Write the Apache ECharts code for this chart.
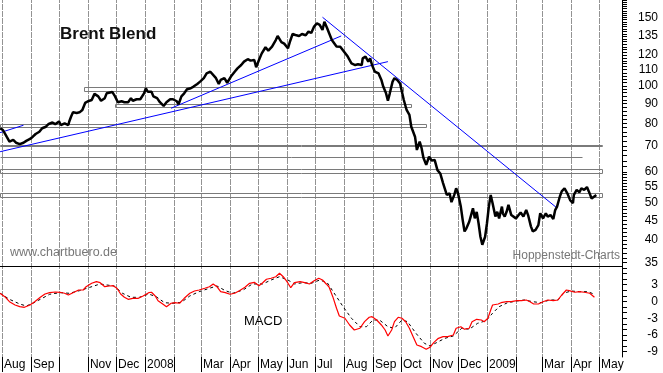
<!DOCTYPE html>
<html><head><meta charset="utf-8">
<script src="https://cdn.jsdelivr.net/npm/echarts@6/dist/echarts.min.js"></script>
<style>html,body{margin:0;padding:0;background:#fff}#c{width:663px;height:373px}</style>
</head><body><div id="c"></div>
<script>
// ---------- DATA ----------
const priceDates = ['2007-07-30','2007-08-02','2007-08-06','2007-08-09','2007-08-13','2007-08-16','2007-08-20','2007-08-24','2007-08-27','2007-08-31',
'2007-09-03','2007-09-06','2007-09-10','2007-09-13','2007-09-17','2007-09-20','2007-09-24','2007-09-27','2007-10-01','2007-10-03',
'2007-10-07','2007-10-11','2007-10-12','2007-10-14','2007-10-16','2007-10-20','2007-10-23','2007-10-24','2007-10-26','2007-10-29',
'2007-11-01','2007-11-05','2007-11-08','2007-11-12','2007-11-15','2007-11-19','2007-11-21','2007-11-23','2007-11-27','2007-11-30',
'2007-12-03','2007-12-07','2007-12-10','2007-12-14','2007-12-17','2007-12-19','2007-12-23','2007-12-27','2007-12-31','2008-01-02',
'2008-01-04','2008-01-08','2008-01-10','2008-01-14','2008-01-17','2008-01-21','2008-01-24','2008-01-28','2008-01-31','2008-02-04',
'2008-02-06','2008-02-09','2008-02-12','2008-02-15','2008-02-19','2008-02-22','2008-02-26','2008-02-29','2008-03-04','2008-03-07',
'2008-03-11','2008-03-13','2008-03-17','2008-03-20','2008-03-22','2008-03-26','2008-03-29','2008-04-02','2008-04-06','2008-04-09',
'2008-04-13','2008-04-16','2008-04-20','2008-04-23','2008-04-27','2008-04-29','2008-05-02','2008-05-05','2008-05-09','2008-05-12',
'2008-05-16','2008-05-20','2008-05-22','2008-05-26','2008-05-29','2008-06-02','2008-06-04','2008-06-07','2008-06-10','2008-06-14',
'2008-06-17','2008-06-21','2008-06-24','2008-06-27','2008-06-30','2008-07-03','2008-07-06','2008-07-09','2008-07-11','2008-07-14',
'2008-07-16','2008-07-19','2008-07-24','2008-07-28','2008-08-05','2008-08-09','2008-08-13','2008-08-16','2008-08-20','2008-08-21',
'2008-08-24','2008-08-27','2008-08-29','2008-08-31','2008-09-03','2008-09-07','2008-09-10','2008-09-12','2008-09-15','2008-09-17',
'2008-09-19','2008-09-22','2008-09-24','2008-09-27','2008-09-30','2008-10-02','2008-10-04','2008-10-07','2008-10-10','2008-10-12',
'2008-10-16','2008-10-18','2008-10-21','2008-10-23','2008-10-25','2008-10-28','2008-10-31','2008-11-03','2008-11-06','2008-11-09',
'2008-11-12','2008-11-15','2008-11-17','2008-11-19','2008-11-22','2008-11-24','2008-11-27','2008-11-29','2008-12-01','2008-12-04',
'2008-12-06','2008-12-08','2008-12-10','2008-12-13','2008-12-15','2008-12-17','2008-12-19','2008-12-21','2008-12-23','2008-12-25',
'2008-12-27','2008-12-30','2009-01-01','2009-01-03','2009-01-05','2009-01-07','2009-01-10','2009-01-12','2009-01-14','2009-01-17',
'2009-01-18','2009-01-20','2009-01-22','2009-01-24','2009-01-27','2009-01-29','2009-02-01','2009-02-03','2009-02-06','2009-02-09',
'2009-02-12','2009-02-14','2009-02-17','2009-02-19','2009-02-22','2009-02-25','2009-02-27','2009-03-02','2009-03-05','2009-03-07',
'2009-03-10','2009-03-13','2009-03-15','2009-03-17','2009-03-20','2009-03-22','2009-03-25','2009-03-28','2009-03-31','2009-04-03',
'2009-04-04','2009-04-07','2009-04-10','2009-04-12','2009-04-15','2009-04-18','2009-04-20','2009-04-23','2009-04-25','2009-04-28'];
const priceValues = [77.7,76.9,73.9,71.8,72.5,71.3,70.7,71.3,72.1,72.9,
73.9,75.1,76.1,77.7,78.4,79.7,80.4,79.6,80.9,79.2,
80.0,79.2,80.9,83.3,85.4,85.1,85.4,84.7,86.6,90.3,
91.2,91.9,95.3,93.9,91.5,92.9,95.6,96.5,96.4,93.9,
90.7,91.2,90.7,90.7,92.9,91.5,92.3,92.3,95.6,98.5,
96.5,96.5,93.9,92.9,90.7,88.7,90.7,92.3,92.3,91.2,
89.6,93.9,95.6,97.9,98.5,99.5,101.1,102.5,104.6,107.6,
108.7,107.7,104.6,101.1,103.5,104.6,101.8,105.6,108.7,110.9,
113.1,115.4,117.1,116.1,116.5,111.6,116.5,121.2,125.7,123.2,
126.1,131.2,134.4,129.6,128.4,124.9,129.6,136.0,135.2,134.4,
136.0,135.0,138.0,136.8,142.1,144.9,143.5,139.3,146.3,140.7,
136.8,131.2,126.3,126.0,118.9,114.2,113.1,113.6,113.1,117.7,
118.9,115.4,117.7,113.1,108.7,107.6,103.5,99.5,95.6,91.5,
95.6,102.5,104.6,103.5,101.4,96.5,91.9,86.6,84.1,78.4,
73.9,68.3,71.8,69.1,65.2,62.5,65.6,64.1,64.4,60.6,
59.4,56.1,55.5,52.3,52.8,50.1,52.3,54.4,52.8,48.8,
45.1,42.1,42.9,44.6,46.4,48.3,45.5,47.3,44.2,40.8,
38.9,40.8,44.2,48.8,52.3,49.8,46.0,47.3,45.5,48.8,
46.9,46.0,47.3,49.3,46.4,46.9,45.5,46.0,47.1,46.0,
47.8,46.4,43.4,42.1,42.5,43.7,46.9,45.5,46.9,46.0,
46.4,45.3,47.8,48.8,51.8,53.4,54.4,52.8,50.7,49.8,
52.3,53.9,53.1,54.4,53.9,54.8,53.4,51.2,51.2,52.3];

const macdDates = ['2007-07-30','2007-08-04','2007-08-09','2007-08-15','2007-08-20','2007-08-25','2007-08-31','2007-09-05','2007-09-11','2007-09-16',
'2007-09-21','2007-09-27','2007-10-02','2007-10-07','2007-10-11','2007-10-16','2007-10-22','2007-10-27','2007-10-30','2007-11-05',
'2007-11-10','2007-11-14','2007-11-19','2007-11-24','2007-11-28','2007-12-02','2007-12-06','2007-12-10','2007-12-14','2007-12-19',
'2007-12-25','2007-12-30','2008-01-05','2008-01-08','2008-01-12','2008-01-15','2008-01-20','2008-01-24','2008-01-29','2008-02-02',
'2008-02-07','2008-02-12','2008-02-18','2008-02-23','2008-02-28','2008-03-05','2008-03-10','2008-03-14','2008-03-18','2008-03-22',
'2008-03-27','2008-04-01','2008-04-06','2008-04-11','2008-04-17','2008-04-22','2008-04-27','2008-05-02','2008-05-06','2008-05-10',
'2008-05-15','2008-05-20','2008-05-24','2008-05-28','2008-06-01','2008-06-05','2008-06-09','2008-06-15','2008-06-20','2008-06-25',
'2008-06-30','2008-07-05','2008-07-09','2008-07-13','2008-07-16','2008-07-20','2008-07-24','2008-07-27','2008-08-02','2008-08-07',
'2008-08-12','2008-08-18','2008-08-23','2008-08-28','2008-08-31','2008-09-05','2008-09-10','2008-09-14','2008-09-17','2008-09-21',
'2008-09-24','2008-09-28','2008-10-02','2008-10-06','2008-10-10','2008-10-14','2008-10-18','2008-10-23','2008-10-28','2008-11-01',
'2008-11-05','2008-11-10','2008-11-15','2008-11-20','2008-11-26','2008-11-29','2008-12-04','2008-12-08','2008-12-13','2008-12-16',
'2008-12-21','2008-12-26','2008-12-29','2009-01-02','2009-01-05','2009-01-07','2009-01-13','2009-01-16','2009-01-22','2009-01-27',
'2009-02-02','2009-02-07','2009-02-12','2009-02-16','2009-02-20','2009-02-25','2009-03-02','2009-03-07','2009-03-13','2009-03-18',
'2009-03-22','2009-03-27','2009-03-30','2009-04-05','2009-04-10','2009-04-15','2009-04-21','2009-04-26'];
const macdValues = [1.47,0.86,-0.04,-0.63,-0.93,-1.04,-0.63,-0.04,0.75,1.34,
1.58,1.70,1.65,1.47,1.16,1.58,2.06,2.06,2.65,3.26,
3.55,3.37,2.65,2.78,2.83,2.37,1.34,0.75,0.39,0.57,
0.57,0.99,1.58,1.65,0.99,0.14,-0.45,-0.93,-0.32,-0.22,
-0.32,0.57,1.47,1.88,2.06,2.37,2.65,3.14,2.65,1.76,
1.58,1.29,1.47,1.94,2.54,3.26,3.44,2.83,3.37,3.98,
4.16,4.44,5.05,4.44,3.55,2.47,3.37,3.55,3.37,3.14,
3.73,4.16,3.85,3.14,2.60,0.86,-1.22,-2.60,-3.01,-4.21,
-5.11,-4.80,-3.62,-2.83,-2.72,-3.32,-4.21,-5.11,-6.18,-5.11,
-3.62,-2.83,-3.01,-3.62,-4.80,-6.31,-7.80,-8.10,-8.57,-8.21,
-7.38,-6.60,-6.31,-6.31,-6.00,-4.80,-4.52,-4.98,-4.80,-3.62,
-3.19,-3.32,-3.62,-3.01,-1.52,-0.63,-0.45,-0.22,-0.04,-0.04,
0.14,0.14,0.27,-0.04,-0.45,-0.45,-0.04,0.27,0.14,0.27,
1.16,2.06,1.94,1.65,1.76,1.65,1.47,0.75];

const signalDates = ['2007-07-30','2007-08-09','2007-08-20','2007-08-27','2007-09-03','2007-09-11','2007-09-21','2007-10-02','2007-10-12','2007-10-23',
'2007-11-03','2007-11-14','2007-11-21','2007-11-29','2007-12-08','2007-12-17','2007-12-26','2008-01-05','2008-01-13','2008-01-22',
'2008-01-31','2008-02-09','2008-02-18','2008-02-28','2008-03-10','2008-03-18','2008-03-27','2008-04-04','2008-04-15','2008-04-25',
'2008-05-06','2008-05-15','2008-05-24','2008-06-02','2008-06-09','2008-06-18','2008-06-27','2008-07-06','2008-07-14','2008-07-24',
'2008-07-31','2008-08-09','2008-08-18','2008-08-25','2008-09-01','2008-09-08','2008-09-17','2008-09-24','2008-10-02','2008-10-08',
'2008-10-17','2008-10-26','2008-11-01','2008-11-08','2008-11-17','2008-11-26','2008-12-05','2008-12-13','2008-12-22','2008-12-31',
'2009-01-07','2009-01-14','2009-01-23','2009-02-02','2009-02-10','2009-02-19','2009-02-28','2009-03-09','2009-03-18','2009-03-24',
'2009-04-01','2009-04-10','2009-04-19','2009-04-26'];
const signalValues = [1.47,0.39,-0.45,-0.81,-0.32,0.39,1.29,1.58,1.47,1.94,
2.54,3.14,2.96,2.78,1.47,0.75,0.75,1.34,0.86,-0.22,
-0.32,-0.14,0.99,1.76,2.37,2.78,1.94,1.47,2.06,3.14,
3.14,3.85,4.44,3.85,3.14,3.37,3.26,3.85,3.37,0.86,
-0.93,-3.01,-4.52,-4.52,-3.32,-3.32,-4.52,-4.80,-3.32,-3.62,
-5.70,-7.49,-7.97,-7.38,-6.60,-6.18,-4.80,-4.98,-3.91,-3.44,
-2.11,-0.93,-0.22,0.09,0.27,-0.04,-0.22,0.27,0.27,1.47,
1.88,1.76,1.76,1.29];

// support / resistance boxes
const levelStart = ['2007-10-28','2007-11-30','2007-07-30','2007-07-30','2007-07-30','2007-07-30','2007-07-30'];
const levelEnd   = ['2008-10-03','2008-10-12','2008-10-28','2009-05-04','2009-04-13','2009-05-04','2009-05-04'];
const levelLow   = [97.2, 88.3, 78.1, 69.8, 65.5, 59.7, 51.8];
const levelHigh  = [99.0, 89.6, 79.6, 70.35, 65.5, 60.9, 52.8];

// blue trend lines
const trendStartDates  = ['2007-07-30','2007-07-30','2008-01-29','2008-07-09'];
const trendStartValues = [75.7, 67.6, 87.5, 150.2];
const trendEndDates    = ['2007-08-24','2008-09-17','2008-07-29','2009-03-16'];
const trendEndValues   = [79.1, 115.4, 134.4, 48.6];

// axes
const monthTicks  = ['2007-08-01','2007-09-01','2007-10-01','2007-11-01','2007-12-01','2008-01-01','2008-02-01','2008-03-01','2008-04-01','2008-05-01','2008-06-01',
'2008-07-01','2008-08-01','2008-09-01','2008-10-01','2008-11-01','2008-12-01','2009-01-01','2009-02-01','2009-03-01','2009-04-01','2009-05-01'];
const monthLabels = ['Aug','Sep','','Nov','Dec','2008','','Mar','Apr','May','Jun',
'Jul','Aug','Sep','Oct','Nov','Dec','2009','','Mar','Apr','May'];
const priceTickLabels = [35,40,45,50,55,60,70,80,90,100,110,120,135,150];
const priceTicks = [35,36,37,38,39,40,41,42,43,44,45,46,47,48,49,50,51,52,53,54,55,56,57,58,59,60,
62,64,66,68,70,72,74,76,78,80,82,84,86,88,90,92,94,96,98,100,102,104,106,108,110,112,114,116,118,120,
122,124,126,128,130,132,134,136,138,140,142,144,146,148,150,152,154,156,158,160,162,164,166];
const macdTickLabels = [-9,-6,-3,0,3];
const macdTicks = [-9,-8,-7,-6,-5,-4,-3,-2,-1,0,1,2,3,4,5,6];
const PRICE_MIN = 34.29, PRICE_MAX = 166.4;
const MACD_MIN = -9.95, MACD_MAX = 6.36;

// ---------- CHART ----------
const FONT = '"Liberation Sans", Arial, sans-serif';
const GRID_GRAY = '#939393';
const ts = s => echarts.time.parse(s).getTime();
const X_MIN = ts('2007-07-29 21:00');
const X_MAX = ts('2009-05-25 12:00');
const zip = (a, b) => a.map((d, i) => [ts(d), b[i]]);
const tickTs = monthTicks.map(ts);
const labelMap = {};
tickTs.forEach((t, i) => { labelMap[t] = monthLabels[i]; });
const labeledTicks = tickTs.filter((t, i) => monthLabels[i] !== '');

// month grid as markLines (vertical, dashed)
const gridMarkLine = {
  silent: true, symbol: ['none', 'none'], animation: false, precision: 0,
  label: { show: false },
  lineStyle: { color: GRID_GRAY, width: 1, type: [3, 4], opacity: 1 },
  emphasis: { disabled: true },
  data: tickTs.map(t => ({ xAxis: t }))
};

const chart = echarts.init(document.getElementById('c'), null, { renderer: 'canvas' });
const series = [];

series.push({
  type: 'custom', xAxisIndex: 0, yAxisIndex: 0, z: 1, silent: true,
  encode: { x: [0, 1], y: [2, 3] },
  data: levelStart.map((s, i) => [ts(s), ts(levelEnd[i]), levelLow[i], levelHigh[i]]),
  renderItem: (params, api) => {
    const p1 = api.coord([api.value(0), api.value(3)]);
    const p2 = api.coord([api.value(1), api.value(2)]);
    const x1 = Math.round(p1[0]) + 0.5, x2 = Math.round(p2[0]) + 0.5;
    const y1 = Math.round(p1[1]) + 0.5, y2 = Math.round(p2[1]) + 0.5;
    if (Math.abs(y2 - y1) < 1) {
      return { type: 'line', shape: { x1: x1, y1: y1, x2: x2, y2: y1 }, style: { stroke: '#7a7a7a', lineWidth: 1 } };
    }
    return { type: 'rect', shape: { x: x1, y: y1, width: x2 - x1, height: y2 - y1 },
      style: { fill: 'rgba(0,0,0,0)', stroke: '#7a7a7a', lineWidth: 1 } };
  }
});

trendStartDates.forEach((d, i) => {
  series.push({
    type: 'line', xAxisIndex: 0, yAxisIndex: 0, z: 2, showSymbol: false, silent: true,
    lineStyle: { color: '#0000ff', width: 1 },
    data: [[ts(d), trendStartValues[i]], [ts(trendEndDates[i]), trendEndValues[i]]]
  });
});

series.push({
  type: 'line', xAxisIndex: 0, yAxisIndex: 0, z: 3, showSymbol: false, silent: true,
  lineStyle: { color: '#000', width: 2.5 },
  data: zip(priceDates, priceValues),
  markLine: Object.assign({ z: 0 }, gridMarkLine)
});

series.push({
  type: 'line', xAxisIndex: 1, yAxisIndex: 1, z: 2, showSymbol: false, silent: true,
  lineStyle: { color: '#000', width: 1, type: [3, 3] },
  data: zip(signalDates, signalValues),
  markLine: Object.assign({ z: 0 }, gridMarkLine)
});
series.push({
  type: 'line', xAxisIndex: 1, yAxisIndex: 1, z: 3, showSymbol: false, silent: true,
  lineStyle: { color: '#ff0000', width: 1.2 },
  data: zip(macdDates, macdValues)
});

chart.setOption({
  animation: false,
  backgroundColor: '#fff',
  grid: [
    { left: 0, right: 41, top: 0, height: 266 },
    { left: 0, right: 41, top: 266, height: 91 }
  ],
  xAxis: [
    { type: 'value', gridIndex: 0, min: X_MIN, max: X_MAX, scale: true,
      axisLine: { show: true, onZero: false, lineStyle: { color: '#000', width: 1 } },
      axisTick: { show: false, customValues: tickTs },
      axisLabel: { show: false },
      splitLine: { show: true, lineStyle: { color: GRID_GRAY, width: 1, type: [3, 4] } } },
    { type: 'value', gridIndex: 1, min: X_MIN, max: X_MAX, scale: true,
      axisLine: { show: false, onZero: false },
      axisTick: { show: true, customValues: tickTs, length: 15, lineStyle: { color: '#000', width: 1 } },
      axisLabel: { show: true, customValues: labeledTicks, align: 'left', margin: 2, padding: [0, 0, 0, 2],
        color: '#000', fontSize: 12, fontFamily: FONT,
        formatter: v => labelMap[v] || '' },
      splitLine: { show: true, lineStyle: { color: GRID_GRAY, width: 1, type: [3, 4] } } }
  ],
  yAxis: [
    { type: 'log', logBase: 10, gridIndex: 0, position: 'right', min: PRICE_MIN, max: PRICE_MAX,
      axisLine: { show: true, lineStyle: { color: '#000', width: 1 } },
      axisTick: { show: true, customValues: priceTicks, length: 5, lineStyle: { color: '#000' } },
      axisLabel: { show: true, customValues: priceTickLabels, align: 'right', margin: 36,
        color: '#000', fontSize: 12, fontFamily: FONT, formatter: v => String(Math.round(v)) },
      splitLine: { show: false } },
    { type: 'value', gridIndex: 1, position: 'right', min: MACD_MIN, max: MACD_MAX,
      axisLine: { show: true, onZero: false, lineStyle: { color: '#000', width: 1 } },
      axisTick: { show: true, customValues: macdTicks, length: 5, lineStyle: { color: '#000' } },
      axisLabel: { show: true, customValues: macdTickLabels, align: 'right', margin: 36,
        color: '#000', fontSize: 12, fontFamily: FONT, formatter: v => String(Math.round(v)) },
      splitLine: { show: false } }
  ],
  graphic: [
    { type: 'text', x: 60, y: 34, z: 10, style: { text: 'Brent Blend', font: 'bold 17px ' + FONT, fill: '#111', verticalAlign: 'middle' } },
    { type: 'text', x: 10, y: 253, z: 10, style: { text: 'www.chartbuero.de', font: '12.5px ' + FONT, fill: '#777', verticalAlign: 'middle' } },
    { type: 'text', x: 620, y: 256, z: 10, style: { text: 'Hoppenstedt-Charts', font: '12px ' + FONT, fill: '#777', align: 'right', verticalAlign: 'middle' } },
    { type: 'text', x: 244, y: 321, z: 10, style: { text: 'MACD', font: '13px ' + FONT, fill: '#000', verticalAlign: 'middle' } }
  ],
  series: series
});
</script>
</body></html>
